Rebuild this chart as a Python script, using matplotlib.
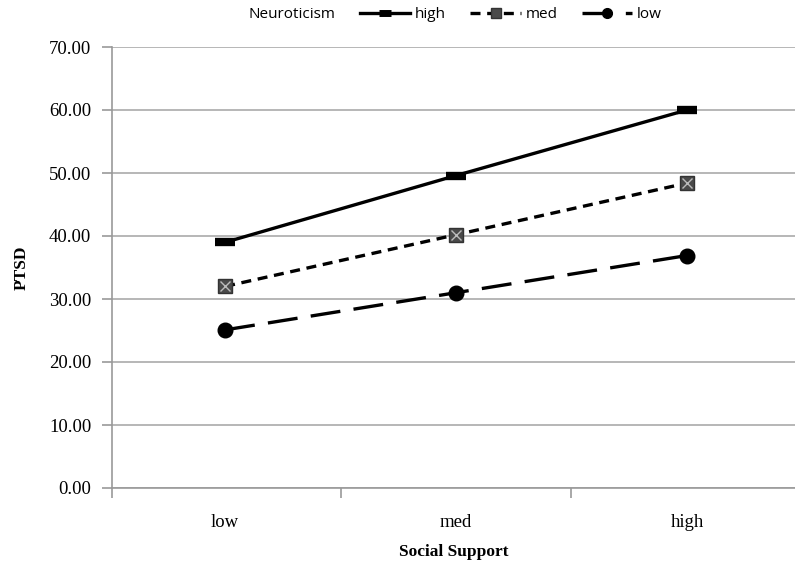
import matplotlib.pyplot as plt
from matplotlib.lines import Line2D

# Données
categories = ["low", "med", "high"]
ptsd_high = [39.0, 49.6, 60.0]
ptsd_med = [32.0, 40.2, 48.4]
ptsd_low = [25.1, 31.0, 36.9]
yticks = [0, 10, 20, 30, 40, 50, 60, 70]

serif = "Liberation Serif"
sans = "Open Sans"

fig = plt.figure(figsize=(7.95, 5.68), dpi=100)
ax = fig.add_axes([112 / 795, 80 / 568, 1 - 112 / 795, 441 / 568])

x = range(len(categories))

l_high, = ax.plot(x, ptsd_high, color="black", lw=2.4, linestyle="-",
                  marker="_", markersize=14, markeredgewidth=6, zorder=3)
l_med, = ax.plot(x, ptsd_med, color="black", lw=2.4, linestyle=(0, (3, 2)),
                 marker="s", markersize=10.5, markerfacecolor="#4a4a4a",
                 markeredgecolor="#333333", zorder=3)
x_med, = ax.plot(x, ptsd_med, linestyle="none", marker="x", markersize=7,
                 markeredgecolor="#bbbbbb", markeredgewidth=1, zorder=4)
l_low, = ax.plot(x, ptsd_low, color="black", lw=2.4, linestyle=(0, (9, 4)),
                 marker="o", markersize=10.5, markerfacecolor="black", zorder=3)

ax.set_xlim(-0.49, 2.468)
ax.set_ylim(0, 70)
ax.set_yticks(yticks)
ax.set_yticklabels([f"{v:.2f}" for v in yticks], fontfamily=serif, fontsize=13.5)
ax.set_xticks(list(x))
ax.set_xticklabels(categories, fontfamily=serif, fontsize=13.5)
ax.set_xticks([-0.49, 0.5, 1.5], minor=True)
ax.tick_params(axis="x", which="major", length=0, pad=19)
ax.tick_params(axis="x", which="minor", length=7, color="#999999", width=1.2)
ax.tick_params(axis="y", length=7, color="#999999", width=1.2, pad=8)

ax.grid(axis="y", color="#aaaaaa", lw=1.2)
ax.set_axisbelow(True)
for s in ["top", "right"]:
    ax.spines[s].set_visible(False)
ax.spines["left"].set_color("#999999")
ax.spines["left"].set_linewidth(1.2)
ax.spines["bottom"].set_color("#999999")
ax.spines["bottom"].set_linewidth(1.2)

ax.set_ylabel("PTSD", fontfamily=serif, fontweight="bold", fontsize=12.5, labelpad=14)
ax.set_xlabel("Social Support", fontfamily=serif, fontweight="bold", fontsize=12.5, labelpad=9)

# Légende en haut
fig.text(248 / 795, 1 - 15 / 568, "Neuroticism", fontfamily=sans, fontsize=11,
         va="center", ha="left")
h_high = Line2D([], [], color="black", lw=2.4, marker="_", markersize=8, markeredgewidth=5)
h_med = Line2D([], [], color="black", lw=2.4, linestyle=(0, (3, 2)), marker="s",
               markersize=6.5, markerfacecolor="#4a4a4a", markeredgecolor="#333333")
h_low = Line2D([], [], color="black", lw=2.4, linestyle=(0, (9, 4)), marker="o",
               markersize=7, markerfacecolor="black")
leg = fig.legend([h_high, h_med, h_low], ["high", "med", "low"], ncol=3,
                 loc="center left", bbox_to_anchor=(360 / 795, 1 - 15 / 568),
                 frameon=False, prop={"family": sans, "size": 11},
                 handlelength=3.3, handletextpad=0.3, columnspacing=1.6,
                 borderaxespad=0, borderpad=0)

fig.savefig("out.png", dpi=100)
